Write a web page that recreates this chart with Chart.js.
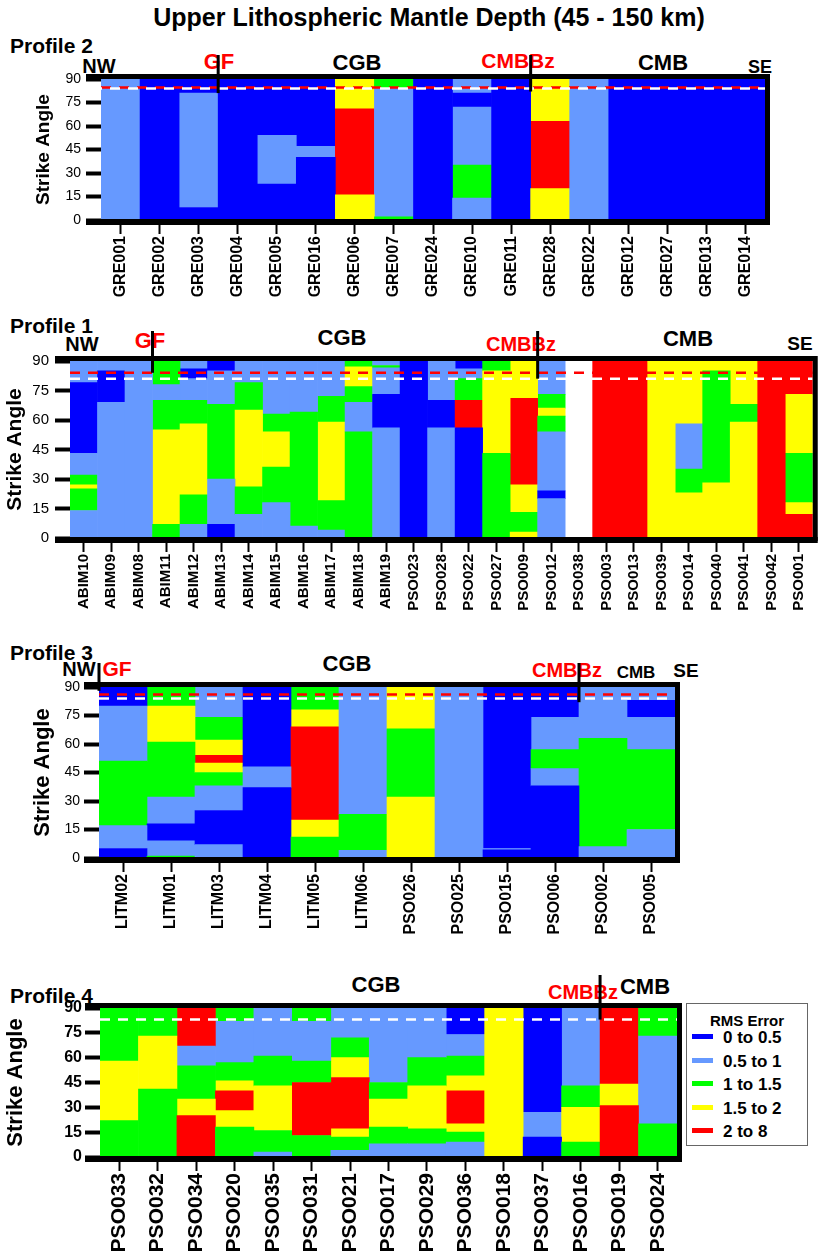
<!DOCTYPE html>
<html lang="en">
<head>
<meta charset="utf-8">
<title>Strike angle profiles</title>
<script src="https://cdn.jsdelivr.net/npm/chart.js@4.4.1/dist/chart.umd.min.js"></script>
<style>
  body { margin: 0; background: #fff; font-family: "Liberation Sans", Arial, sans-serif; }
  #page { position: relative; width: 819px; height: 1257px; overflow: hidden; }
  canvas { position: absolute; left: 0; }
  .t { position: absolute; font-weight: bold; line-height: 1; white-space: nowrap; color: #000; }
  .c { transform: translateX(-50%); }
  .red { color: #ff0000; }
  #legend { position: absolute; left: 686px; top: 1003px; width: 120px; height: 141px; border: 1px solid #666; background: #fff; }
  #legend .lt { position: absolute; left: 0; width: 120px; top: 8px; text-align: center; font-weight: bold; font-size: 15px; }
  #legend .row { position: absolute; left: 5px; height: 20px; font-weight: bold; font-size: 17px; line-height: 20px; }
  #legend .sw { display: inline-block; width: 21px; height: 5px; vertical-align: middle; margin-right: 10px; position: relative; top: -2px; }
</style>
</head>
<body>
<div id="page">
  <div class="t c" style="left:429px; top:5px; font-size:25px;">Upper Lithospheric Mantle Depth (45 - 150 km)</div>

  <div class="t" style="left:10px; top:35px; font-size:21px;">Profile 2</div>
  <div class="t c" style="left:99px; top:56px; font-size:20px;">NW</div>
  <div class="t c red" style="left:219px; top:51px; font-size:22px;">GF</div>
  <div class="t c" style="left:357px; top:52px; font-size:22px;">CGB</div>
  <div class="t c red" style="left:518px; top:50px; font-size:21px;">CMBBz</div>
  <div class="t c" style="left:663px; top:52px; font-size:22px;">CMB</div>
  <div class="t c" style="left:760px; top:58px; font-size:18px;">SE</div>

  <div class="t" style="left:10px; top:315px; font-size:21px;">Profile 1</div>
  <div class="t c" style="left:82px; top:334px; font-size:20px;">NW</div>
  <div class="t c red" style="left:150px; top:330px; font-size:22px;">GF</div>
  <div class="t c" style="left:342px; top:327px; font-size:22px;">CGB</div>
  <div class="t c red" style="left:521px; top:334px; font-size:20px;">CMBBz</div>
  <div class="t c" style="left:688px; top:328px; font-size:22px;">CMB</div>
  <div class="t c" style="left:800px; top:334px; font-size:19px;">SE</div>

  <div class="t" style="left:10px; top:642px; font-size:21px;">Profile 3</div>
  <div class="t c" style="left:79px; top:659px; font-size:20px;">NW</div>
  <div class="t c red" style="left:117px; top:658px; font-size:21px;">GF</div>
  <div class="t c" style="left:347px; top:653px; font-size:22px;">CGB</div>
  <div class="t c red" style="left:567px; top:660px; font-size:20px;">CMBBz</div>
  <div class="t c" style="left:636px; top:664px; font-size:17px;">CMB</div>
  <div class="t c" style="left:686px; top:661px; font-size:19px;">SE</div>

  <div class="t" style="left:10px; top:985px; font-size:21px;">Profile 4</div>
  <div class="t c" style="left:376px; top:974px; font-size:22px;">CGB</div>
  <div class="t c red" style="left:583px; top:982px; font-size:20px;">CMBBz</div>
  <div class="t c" style="left:645px; top:976px; font-size:22px;">CMB</div>

  <canvas id="chart-p2" width="819" height="270" style="top:40px"></canvas>
  <canvas id="chart-p1" width="819" height="310" style="top:320px"></canvas>
  <canvas id="chart-p3" width="819" height="300" style="top:640px"></canvas>
  <canvas id="chart-p4" width="819" height="297" style="top:960px"></canvas>

  <div id="legend"><div class="lt">RMS Error</div></div>
</div>

<script>
// RMS error classes (index used in the *Rms arrays below)
var rmsLabels = ['0 to 0.5', '0.5 to 1', '1 to 1.5', '1.5 to 2', '2 to 8'];
var rmsColors = ['#0000ff', '#6699ff', '#00ff00', '#ffff00', '#ff0000'];

// ---- Profile 2 ----
var p2Stations = ['GRE001', 'GRE002', 'GRE003', 'GRE004', 'GRE005', 'GRE016', 'GRE006', 'GRE007', 'GRE024',
                  'GRE010', 'GRE011', 'GRE028', 'GRE022', 'GRE012', 'GRE027', 'GRE013', 'GRE014'];
// strike angle boundaries of each band, bottom to top
var p2Bounds = [[0, 90], [0, 90], [0, 8, 81, 90], [0, 90], [0, 23, 54, 90], [0, 40, 47, 90], [0, 16, 71, 90],
                [0, 2, 84, 90], [0, 90], [0, 14, 35, 72, 81, 90], [0, 90], [0, 20, 63, 90], [0, 90],
                [0, 90], [0, 90], [0, 90], [0, 90]];
var p2Rms = [[1], [0], [0, 1, 0], [0], [0, 1, 0], [0, 1, 0], [3, 4, 3], [2, 1, 2], [0], [1, 2, 1, 0, 1], [0],
             [3, 4, 3], [1], [0], [0], [0], [0]];
var p2RedAngle = 84.5;
var p2WhiteAngle = 84;
var p2Faults = [3, 11];      // GF, CMBBz (station boundary index)
var p2FaultEnds = [81, 82];

// ---- Profile 1 ----
var p1Stations = ['ABIM10', 'ABIM09', 'ABIM08', 'ABIM11', 'ABIM12', 'ABIM13', 'ABIM14', 'ABIM15', 'ABIM16',
                  'ABIM17', 'ABIM18', 'ABIM19', 'PSO023', 'PSO028', 'PSO022', 'PSO027', 'PSO009', 'PSO012',
                  'PSO038', 'PSO003', 'PSO013', 'PSO039', 'PSO014', 'PSO040', 'PSO041', 'PSO042', 'PSO001'];
var p1Bounds = [[0, 14, 25, 27, 32, 43, 79, 90], [0, 69, 85, 90], [0, 90], [0, 7, 55, 70, 78, 90],
                [0, 7, 22, 58, 70, 81, 86, 90], [0, 7, 30, 68, 85, 90], [0, 12, 26, 65, 79, 90],
                [0, 18, 36, 54, 63, 90], [0, 6, 64, 90], [0, 4, 19, 59, 72, 90], [0, 54, 69, 77, 87, 90],
                [0, 56, 73, 86.5, 87.7, 90], [0, 90], [0, 56, 70, 90], [0, 56, 70, 81, 86, 90],
                [0, 43, 85, 90], [0, 3, 13, 27, 71, 90], [0, 20, 24, 54, 62, 66, 73, 90],
                [], [0, 90], [0, 90], [0, 90], [0, 23, 35, 58, 90], [0, 28, 85, 90], [0, 59, 68, 90],
                [0, 90], [0, 12, 18, 43, 73, 90]];
var p1Rms = [[1, 2, 3, 2, 1, 0, 1], [1, 0, 1], [1], [2, 3, 2, 1, 2], [1, 2, 3, 2, 1, 0, 1], [0, 1, 2, 1, 0],
             [1, 2, 3, 2, 1], [1, 2, 3, 2, 1], [1, 2, 1], [1, 2, 3, 2, 1], [2, 1, 2, 3, 2], [1, 0, 1, 2, 1],
             [0], [1, 0, 1], [0, 4, 2, 1, 0], [2, 3, 2], [3, 2, 3, 4, 3], [1, 0, 1, 2, 3, 2, 1],
             [], [4], [4], [3], [3, 2, 1, 3], [3, 2, 3], [3, 2, 3], [4], [4, 3, 2, 3, 4]];
var p1RedAngle = 84;
var p1WhiteAngle = 81;
var p1Faults = [3, 17];
var p1FaultEnds = [84, 81];

// ---- Profile 3 ----
var p3Stations = ['LITM02', 'LITM01', 'LITM03', 'LITM04', 'LITM05', 'LITM06', 'PSO026', 'PSO025', 'PSO015',
                  'PSO006', 'PSO002', 'PSO005'];
var p3Bounds = [[0, 5, 17, 51, 80, 90], [0, 1, 9, 18, 32, 61, 80, 90], [0, 7, 25, 38, 45, 50, 54, 62, 74, 90],
                [0, 37, 48, 90], [0, 11, 20, 69, 78, 90], [0, 4, 23, 90], [0, 32, 68, 90], [0, 90],
                [0, 4.3, 5, 90], [0, 38, 47, 57, 74, 90], [0, 6, 63, 90], [0, 15, 57, 74, 83, 90]];
var p3Rms = [[0, 1, 2, 1, 0], [2, 1, 0, 1, 2, 3, 2], [1, 0, 1, 2, 3, 4, 3, 2, 1], [0, 1, 0], [2, 3, 4, 3, 2],
             [1, 2, 1], [3, 2, 3], [1], [0, 1, 0], [0, 1, 2, 1, 0], [1, 2, 1], [1, 2, 1, 0, 1]];
var p3RedAngle = 86;
var p3WhiteAngle = 84;
var p3Faults = [0, 10];
var p3FaultEnds = [88, 82];

// ---- Profile 4 ----
var p4Stations = ['PSO033', 'PSO032', 'PSO034', 'PSO020', 'PSO035', 'PSO031', 'PSO021', 'PSO017', 'PSO029',
                  'PSO036', 'PSO018', 'PSO037', 'PSO016', 'PSO019', 'PSO024'];
var p4Bounds = [[0, 22, 58, 90], [0, 41, 73, 90], [0, 25, 35, 55, 67, 90], [0, 18, 28, 40, 46, 57, 82, 90],
                [0, 3, 16, 43, 61, 90], [0, 13, 45, 58, 82, 90], [0, 4, 12, 17, 48, 60, 72, 90],
                [0, 8, 18, 35, 45, 90], [0, 8, 17, 43, 60, 90], [0, 9, 15, 20, 40, 49, 61, 74, 90],
                [0, 90], [0, 12, 27, 90], [0, 9, 30, 43, 90], [0, 31, 44, 90], [0, 20, 73, 90]];
var p4Rms = [[2, 3, 2], [2, 3, 2], [4, 3, 2, 1, 4], [2, 3, 4, 3, 2, 1, 2], [1, 2, 3, 2, 1], [2, 4, 2, 1, 2],
             [1, 2, 3, 4, 3, 2, 1], [1, 2, 3, 2, 1], [1, 2, 3, 2, 1], [1, 2, 3, 4, 3, 2, 1, 0], [3],
             [0, 1, 0], [2, 3, 2, 1], [4, 3, 4], [2, 1, 2]];
var p4WhiteAngle = 83;
var p4Faults = [13];
var p4FaultEnds = [83];

// one dataset per band level; bars of a level sit on top of each other (not grouped)
function bandDatasets(bounds, rms) {
    var levels = 0;
    rms.forEach(function (r) { levels = Math.max(levels, r.length); });
    var sets = [];
    for (var k = 0; k < levels; k++) {
        var data = [];
        var colors = [];
        for (var i = 0; i < bounds.length; i++) {
            if (rms[i].length > k) {
                data.push([bounds[i][k], bounds[i][k + 1]]);
                colors.push(rmsColors[rms[i][k]]);
            } else {
                data.push(null);
                colors.push('rgba(0,0,0,0)');
            }
        }
        sets.push({
            data: data,
            backgroundColor: colors,
            borderWidth: 0,
            grouped: false,
            barPercentage: 1,
            categoryPercentage: 1
        });
    }
    return sets;
}

// frame, dashed reference angles and fault markers
var profileExtras = {
    id: 'profileExtras',
    afterDatasetsDraw: function (chart, args, o) {
        var ctx = chart.ctx, a = chart.chartArea, ys = chart.scales.y;
        ctx.save();
        ctx.beginPath();
        ctx.rect(a.left, a.top, a.right - a.left, a.bottom - a.top);
        ctx.clip();
        o.lines.forEach(function (l) {
            var y = ys.getPixelForValue(l.value);
            ctx.strokeStyle = l.color;
            ctx.lineWidth = 2.5;
            ctx.setLineDash([10, 8]);
            ctx.lineDashOffset = l.offset || 0;
            ctx.beginPath();
            ctx.moveTo(a.left, y);
            ctx.lineTo(a.right, y);
            ctx.stroke();
        });
        ctx.restore();
    },
    afterDraw: function (chart, args, o) {
        var ctx = chart.ctx, a = chart.chartArea, xs = chart.scales.x, ys = chart.scales.y;
        ctx.save();
        ctx.strokeStyle = '#000';
        ctx.setLineDash([]);
        ctx.lineWidth = 5;
        ctx.beginPath();
        ctx.moveTo(a.left - 15, a.top - 2.5);
        ctx.lineTo(a.right + 2.5, a.top - 2.5);
        ctx.lineTo(a.right + 2.5, a.bottom + 3);
        ctx.stroke();
        ctx.lineWidth = 6;
        ctx.beginPath();
        ctx.moveTo(a.left - 15, a.bottom + 2);
        ctx.lineTo(a.right + 5, a.bottom + 2);
        ctx.stroke();

        var step = xs.getPixelForValue(1) - xs.getPixelForValue(0);
        ctx.lineWidth = 3;
        o.faults.forEach(function (f, i) {
            var x = xs.getPixelForValue(f) - step / 2;
            ctx.beginPath();
            ctx.moveTo(x, a.top - o.rise);
            ctx.lineTo(x, ys.getPixelForValue(o.faultEnds[i]));
            ctx.stroke();
        });
        ctx.restore();
    }
};

function makeProfile(id, stations, bounds, rms, lay) {
    var canvas = document.getElementById(id);
    var h = canvas.height;
    return new Chart(canvas, {
        type: 'bar',
        data: { labels: stations, datasets: bandDatasets(bounds, rms) },
        plugins: [profileExtras],
        options: {
            responsive: false,
            animation: false,
            events: [],
            layout: { padding: { left: lay.padLeft, top: lay.top, right: 819 - lay.right, bottom: 0 } },
            plugins: {
                legend: { display: false },
                tooltip: { enabled: false },
                profileExtras: { lines: lay.lines, faults: lay.faults, faultEnds: lay.faultEnds, rise: lay.rise }
            },
            scales: {
                x: {
                    type: 'category',
                    offset: true,
                    border: { display: false },
                    grid: { drawOnChartArea: false, drawTicks: true, tickLength: 14, tickWidth: 2,
                            color: '#000', tickColor: '#000', offset: false },
                    ticks: { autoSkip: false, minRotation: 90, maxRotation: 90, padding: 2, color: '#000',
                             font: { family: 'Liberation Sans', weight: 'bold', size: lay.xFont } },
                    afterFit: function (s) { s.height = h - lay.bottom; }
                },
                y: {
                    min: 0,
                    max: 90,
                    border: { display: false },
                    grid: { drawOnChartArea: false, tickLength: 15, tickWidth: 4, color: '#000', tickColor: '#000' },
                    ticks: { stepSize: 15, padding: lay.yPad, color: '#000',
                             font: { family: 'Liberation Sans', weight: lay.yWeight, size: lay.yFont } },
                    title: { display: true, text: 'Strike Angle', color: '#000', padding: 0,
                             font: { family: 'Liberation Sans', weight: 'bold', size: lay.titleFont, lineHeight: 1.2 } },
                    afterFit: function (s) { s.width = lay.left - lay.padLeft; }
                }
            }
        }
    });
}

// chart areas given in canvas coordinates
makeProfile('chart-p2', p2Stations, p2Bounds, p2Rms, {
    left: 101, right: 765, top: 39, bottom: 180, padLeft: 32,
    xFont: 16, yFont: 14, yWeight: 'normal', yPad: 5, titleFont: 19, rise: 24,
    lines: [{ value: p2RedAngle, color: '#ff0000' }, { value: p2WhiteAngle, color: '#ffffff', offset: 9 }],
    faults: p2Faults, faultEnds: p2FaultEnds
});
makeProfile('chart-p1', p1Stations, p1Bounds, p1Rms, {
    left: 70, right: 818, top: 41, bottom: 218, padLeft: 3,
    xFont: 15, yFont: 15, yWeight: 'normal', yPad: 6, titleFont: 21, rise: 30,
    lines: [{ value: p1RedAngle, color: '#ff0000' }, { value: p1WhiteAngle, color: '#ffffff' }],
    faults: p1Faults, faultEnds: p1FaultEnds
});
makeProfile('chart-p3', p3Stations, p3Bounds, p3Rms, {
    left: 99, right: 675, top: 47, bottom: 218, padLeft: 30,
    xFont: 16, yFont: 14, yWeight: 'normal', yPad: 4, titleFont: 22, rise: 24,
    lines: [{ value: p3RedAngle, color: '#ff0000' }, { value: p3WhiteAngle, color: '#ffffff' }],
    faults: p3Faults, faultEnds: p3FaultEnds
});
makeProfile('chart-p4', p4Stations, p4Bounds, p4Rms, {
    left: 100, right: 677, top: 48, bottom: 197, padLeft: 3,
    xFont: 21, yFont: 16, yWeight: 'bold', yPad: 3, titleFont: 22, rise: 33,
    lines: [{ value: p4WhiteAngle, color: '#ffffff' }],
    faults: p4Faults, faultEnds: p4FaultEnds
});

// RMS legend
var legend = document.getElementById('legend');
rmsLabels.forEach(function (lab, i) {
    var row = document.createElement('div');
    row.className = 'row';
    row.style.top = (24 + i * 23.6) + 'px';
    row.innerHTML = '<span class="sw" style="background:' + rmsColors[i] + '"></span>' + lab;
    legend.appendChild(row);
});
</script>
</body>
</html>
